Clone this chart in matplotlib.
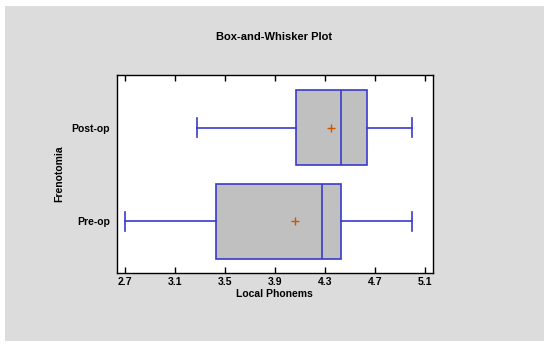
import matplotlib.pyplot as plt
from matplotlib.patches import Rectangle

plt.rcParams['font.family'] = ['Liberation Sans', 'DejaVu Sans']
plt.rcParams['font.weight'] = 'bold'

groups = ['Pre-op', 'Post-op']
whislo = [2.70, 3.28]
q1 = [3.43, 4.07]
med = [4.28, 4.43]
q3 = [4.43, 4.64]
whishi = [5.00, 5.00]
means = [4.06, 4.35]
xticks = [2.7, 3.1, 3.5, 3.9, 4.3, 4.7, 5.1]

edge = '#3a3acc'
stats = []
for i in range(len(groups)):
    stats.append(dict(label=groups[i], whislo=whislo[i], q1=q1[i], med=med[i],
                      q3=q3[i], whishi=whishi[i], mean=means[i]))

fig = plt.figure(figsize=(5.5, 3.47), dpi=100, facecolor='white')
# grey panel behind the plot
fig.patches.append(Rectangle((5 / 550, 1 - 341 / 347), 539 / 550, 335 / 347,
                             transform=fig.transFigure, facecolor='#dcdcdc',
                             edgecolor='none', zorder=-1))
ax = fig.add_axes([0.2122, 0.2133, 0.5748, 0.5706])

ax.bxp(stats, positions=[0, 1], vert=False, widths=0.8, capwidths=0.21,
       showmeans=True, patch_artist=True, showfliers=False,
       boxprops=dict(facecolor='#c0c0c0', edgecolor=edge, linewidth=1.2),
       medianprops=dict(color=edge, linewidth=1.2),
       whiskerprops=dict(color=edge, linewidth=1.2),
       capprops=dict(color=edge, linewidth=1.2),
       meanprops=dict(marker='+', markeredgecolor='#cc5500', markersize=5.5,
                      markeredgewidth=1))

ax.set_xlim(2.633, 5.165)
ax.set_ylim(-0.55, 1.56)
ax.set_xticks(xticks)
ax.set_xticklabels([f'{t:.1f}' for t in xticks])
ax.tick_params(axis='x', direction='in', top=True, length=4, width=1,
               labelsize=7.5, pad=3)
ax.tick_params(axis='y', length=0, labelsize=7.5, pad=5)
for s in ax.spines.values():
    s.set_linewidth(1)

ax.set_xlabel('Local Phonems', fontsize=7.5, fontweight='bold', labelpad=1)
ax.set_ylabel('Frenotomia', fontsize=7.5, fontweight='bold', labelpad=5)
fig.text(274 / 550, 1 - 37 / 347, 'Box-and-Whisker Plot', ha='center',
         va='center', fontsize=8, fontweight='bold')

fig.savefig('out.png', dpi=100, facecolor='white')
